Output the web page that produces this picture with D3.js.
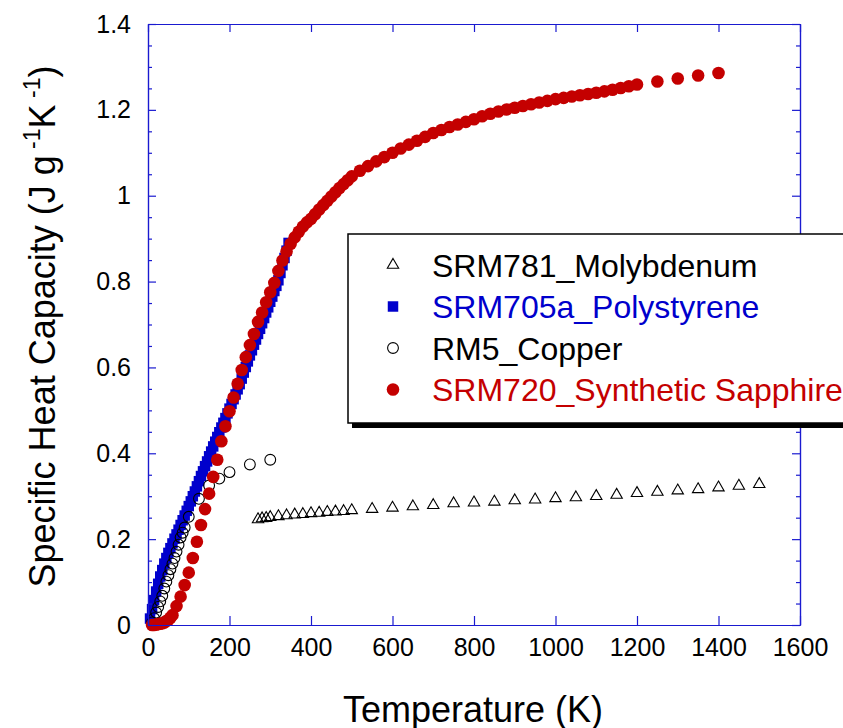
<!DOCTYPE html>
<html>
<head>
<meta charset="utf-8">
<script src="https://cdn.jsdelivr.net/npm/d3@7"></script>
<style>
  body { margin: 0; background: #fff; }
  svg { display: block; font-family: "Liberation Sans", Arial, sans-serif; }
</style>
</head>
<body>
<svg width="843" height="728"></svg>
<script>
// SRM781 Molybdenum
var moT  = [270, 280, 290, 300, 320, 340, 360, 380, 400, 420, 440, 460, 480, 500, 550, 600, 650, 700,
            750, 800, 850, 900, 950, 1000, 1050, 1100, 1150, 1200, 1250, 1300, 1350, 1400, 1450, 1500];
var moCp = [0.246, 0.248, 0.249, 0.251, 0.253, 0.255, 0.257, 0.258, 0.260, 0.261, 0.263, 0.264, 0.265, 0.267,
            0.270, 0.273, 0.276, 0.279, 0.283, 0.285, 0.287, 0.290, 0.292, 0.295, 0.297, 0.300, 0.303,
            0.307, 0.310, 0.313, 0.316, 0.320, 0.324, 0.328];

// SRM705a Polystyrene
var psT  = [5, 10, 15, 20, 25, 30, 35, 40, 45, 50, 55, 60, 65, 70, 75, 80, 85, 90, 95, 100,
            105, 110, 115, 120, 125, 130, 135, 140, 145, 150, 155, 160, 165, 170, 175, 180, 185, 190, 195, 200,
            205, 210, 215, 220, 225, 230, 235, 240, 245, 250, 255, 260, 265, 270, 275, 280, 285, 290, 295, 300,
            305, 310, 315, 320, 325, 330, 335, 340, 345];
var psCp = [0.015, 0.037, 0.058, 0.078, 0.096, 0.113, 0.128, 0.143, 0.156, 0.168, 0.179, 0.190, 0.201, 0.211,
            0.222, 0.233, 0.244, 0.255, 0.266, 0.277, 0.288, 0.300, 0.311, 0.323, 0.335, 0.347, 0.358, 0.370,
            0.381, 0.393, 0.404, 0.416, 0.427, 0.438, 0.449, 0.460, 0.471, 0.482, 0.493, 0.504, 0.515, 0.526,
            0.537, 0.549, 0.561, 0.574, 0.588, 0.601, 0.614, 0.628, 0.640, 0.653, 0.665, 0.678, 0.690, 0.703,
            0.715, 0.728, 0.740, 0.753, 0.765, 0.778, 0.790, 0.803, 0.820, 0.838, 0.855, 0.872, 0.890];

// RM5 Copper
var cuT  = [10, 15, 20, 25, 30, 35, 40, 45, 50, 55, 60, 65, 70, 75, 80, 85, 90, 100, 125, 150, 175, 200, 250, 300];
var cuCp = [0.006, 0.016, 0.029, 0.042, 0.055, 0.068, 0.085, 0.101, 0.116, 0.130, 0.143, 0.156, 0.171,
            0.187, 0.204, 0.215, 0.227, 0.252, 0.294, 0.325, 0.341, 0.356, 0.374, 0.385];

// SRM720 Synthetic Sapphire
var saT  = [10, 15, 20, 25, 30, 35, 40, 45, 50, 55, 60, 70, 80, 90, 100, 110, 120, 130, 140, 150, 160,
            170, 180, 190, 200, 210, 220, 230, 240, 250, 260, 270, 280, 290, 300, 310, 320, 330, 340,
            350, 360, 370, 380, 390, 400, 410, 420, 430, 440, 450, 460, 470, 480, 490, 500, 520, 540,
            560, 580, 600, 620, 640, 660, 680, 700, 720, 740, 760, 780, 800, 820, 840, 860, 880, 900,
            920, 940, 960, 980, 1000, 1020, 1040, 1060, 1080, 1100, 1120, 1140, 1160, 1180, 1200,
            1250, 1300, 1350, 1400];
var saCp = [0.000, 0.000, 0.001, 0.002, 0.003, 0.004, 0.006, 0.009, 0.012, 0.017, 0.023, 0.044, 0.066,
            0.093, 0.122, 0.156, 0.194, 0.233, 0.270, 0.306, 0.345, 0.385, 0.428, 0.463, 0.498, 0.530,
            0.562, 0.594, 0.624, 0.652, 0.678, 0.706, 0.728, 0.752, 0.775, 0.797, 0.825, 0.849, 0.870,
            0.888, 0.903, 0.916, 0.928, 0.938, 0.946, 0.957, 0.968, 0.978, 0.988, 0.998, 1.008, 1.018,
            1.027, 1.036, 1.045, 1.058, 1.069, 1.080, 1.090, 1.100, 1.110, 1.119, 1.128, 1.137, 1.146,
            1.153, 1.160, 1.166, 1.172, 1.178, 1.185, 1.191, 1.196, 1.201, 1.205, 1.209, 1.213, 1.217,
            1.221, 1.225, 1.228, 1.231, 1.234, 1.237, 1.240, 1.243, 1.247, 1.251, 1.255, 1.259, 1.266,
            1.273, 1.280, 1.286];

var seriesNames = ["SRM781_Molybdenum", "SRM705a_Polystyrene", "RM5_Copper", "SRM720_Synthetic Sapphire"];
var xTicks = [0, 200, 400, 600, 800, 1000, 1200, 1400, 1600];
var yTicks = [0, 0.2, 0.4, 0.6, 0.8, 1, 1.2, 1.4];
var yMinor = [0.05, 0.1, 0.15, 0.25, 0.3, 0.35, 0.45, 0.5, 0.55, 0.65, 0.7, 0.75, 0.85, 0.9, 0.95, 1.05, 1.1, 1.15, 1.25, 1.3, 1.35];

var svg = d3.select("svg"),
    margin = {top: 24, right: 43, bottom: 103, left: 148},
    width = +svg.attr("width") - margin.left - margin.right,
    height = +svg.attr("height") - margin.top - margin.bottom;

var frameBlue = "#1a1ad0",
    red = "#c40000",
    blue = "#0000cc";

var x = d3.scaleLinear().domain([0, 1600]).range([0, width]),
    y = d3.scaleLinear().domain([0, 1.4]).range([height, 0]);

var g = svg.append("g")
    .attr("transform", "translate(" + margin.left + "," + margin.top + ")");

function zip(xs, ys) { return xs.map(function(v, i) { return {t: v, cp: ys[i]}; }); }

var series = [
  {name: seriesNames[0], data: zip(moT, moCp), color: "#000", kind: "tri"},
  {name: seriesNames[1], data: zip(psT, psCp), color: blue, kind: "sq"},
  {name: seriesNames[2], data: zip(cuT, cuCp), color: "#000", kind: "ocirc"},
  {name: seriesNames[3], data: zip(saT, saCp), color: red, kind: "fcirc"}
];

// draw one marker of a given kind into a selection
function marker(sel, kind, color) {
  if (kind === "tri") {
    sel.append("path")
      .attr("d", d3.symbol(d3.symbolTriangle, 56))
      .attr("fill", "none").attr("stroke", color).attr("stroke-width", 1.1);
  } else if (kind === "sq") {
    sel.append("path")
      .attr("d", d3.symbol(d3.symbolSquare, 110))
      .attr("fill", color);
  } else if (kind === "ocirc") {
    sel.append("circle").attr("r", 5.4)
      .attr("fill", "none").attr("stroke", color).attr("stroke-width", 1.1);
  } else {
    sel.append("circle").attr("r", 6.3).attr("fill", color);
  }
}

// points
series.forEach(function(s) {
  g.append("g").selectAll("g")
    .data(s.data)
    .enter().append("g")
    .attr("transform", function(d) { return "translate(" + x(d.t) + "," + y(d.cp) + ")"; })
    .each(function() { marker(d3.select(this), s.kind, s.color); });
});

// axes, ticks inward on all four sides
var axes = g.append("g").attr("class", "axes");

axes.append("g")
    .attr("transform", "translate(0," + height + ")")
    .call(d3.axisBottom(x).tickValues(xTicks).tickSize(-9).tickSizeOuter(0).tickPadding(13).tickFormat(function(d) { return d; }));

axes.append("g")
    .call(d3.axisTop(x).tickValues(xTicks).tickSize(-8).tickSizeOuter(0).tickFormat(""));

axes.append("g")
    .call(d3.axisLeft(y).tickValues(yTicks).tickSize(-8).tickSizeOuter(0).tickPadding(17).tickFormat(function(d) { return d; }));

axes.append("g")
    .call(d3.axisLeft(y).tickValues(yMinor).tickSize(-4).tickSizeOuter(0).tickFormat(""));

axes.append("g")
    .attr("transform", "translate(" + width + ",0)")
    .call(d3.axisRight(y).tickValues(yTicks).tickSize(-8).tickSizeOuter(0).tickFormat(""));

axes.append("g")
    .attr("transform", "translate(" + width + ",0)")
    .call(d3.axisRight(y).tickValues(yMinor).tickSize(-4).tickSizeOuter(0).tickFormat(""));

axes.selectAll("path.domain, .tick line").attr("stroke", frameBlue).attr("stroke-width", 1.2);
axes.selectAll("text")
    .attr("fill", "#000")
    .style("font-size", "25px")
    .style("font-family", "'Liberation Sans', Arial, sans-serif");

// axis titles
svg.append("text")
    .attr("x", margin.left + width / 2 - 1)
    .attr("y", 722)
    .attr("text-anchor", "middle")
    .style("font-size", "36px")
    .text("Temperature (K)");

var yt = svg.append("text")
    .attr("transform", "translate(55," + (margin.top + height / 2 + 2) + ") rotate(-90)")
    .attr("text-anchor", "middle")
    .style("font-size", "36px");
yt.append("tspan").text("Specific Heat Capacity (J g");
yt.append("tspan").attr("dy", -15).style("font-size", "23px").text(" -1");
yt.append("tspan").attr("dy", 15).text("K");
yt.append("tspan").attr("dy", -15).style("font-size", "23px").text(" -1");
yt.append("tspan").attr("dy", 15).text(")");

// legend
var legend = svg.append("g").attr("transform", "translate(348,234)");
legend.append("rect")
    .attr("x", 4).attr("y", 5).attr("width", 540).attr("height", 189)
    .attr("fill", "#000");
legend.append("rect")
    .attr("width", 540).attr("height", 189)
    .attr("fill", "#fff").attr("stroke", "#000").attr("stroke-width", 1.5);

var item = legend.selectAll(".item")
    .data(series)
    .enter().append("g")
    .attr("class", "item")
    .attr("transform", function(d, i) { return "translate(0," + (31 + i * 41.5) + ")"; });

item.each(function(d) {
  var m = d3.select(this).append("g").attr("transform", "translate(45,0)");
  marker(m, d.kind, d.color);
});

item.append("text")
    .attr("x", 84)
    .attr("y", 11.5)
    .attr("fill", function(d) { return d.color; })
    .style("font-size", "32px")
    .text(function(d) { return d.name; });
</script>
</body>
</html>
